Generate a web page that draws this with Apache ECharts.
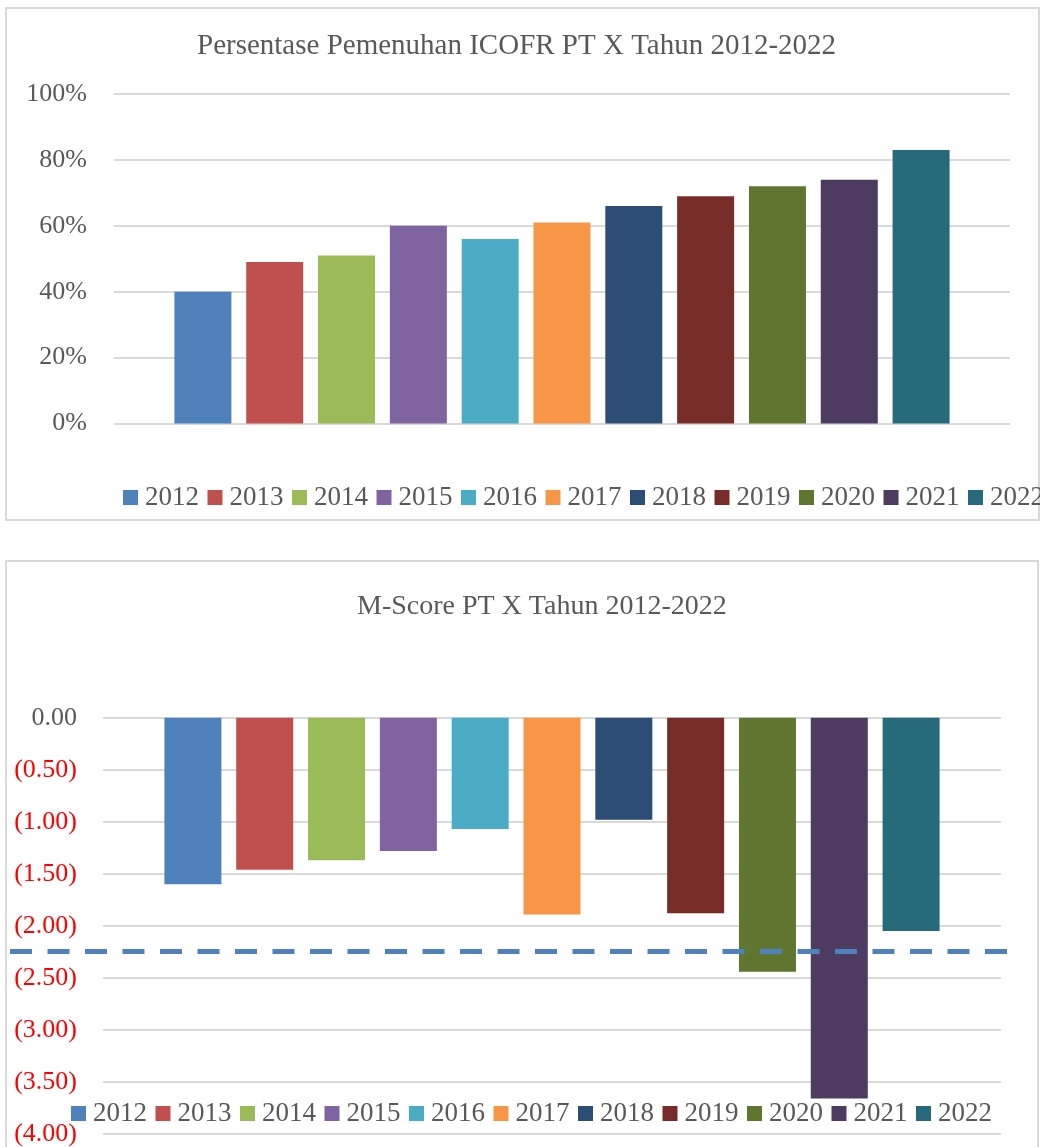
<!DOCTYPE html>
<html>
<head>
<meta charset="utf-8">
<script src="https://cdn.jsdelivr.net/npm/echarts@6/dist/echarts.min.js"></script>
<style>
  html, body { margin: 0; padding: 0; background: #fff; overflow: hidden; }
  .box { position: absolute; border: 2px solid #d9d9d9; box-sizing: border-box; }
  .chart { position: absolute; left: 0; width: 1040px; }
</style>
</head>
<body>
<div class="box" style="left:5px; top:7px; width:1035px; height:514px;"></div>
<div class="box" style="left:5px; top:560px; width:1034px; height:620px;"></div>
<div id="icofr" class="chart" style="top:0; height:540px;"></div>
<div id="mscore" class="chart" style="top:540px; height:607px;"></div>
<script>
  // data
  const years = ['2012', '2013', '2014', '2015', '2016', '2017', '2018', '2019', '2020', '2021', '2022']
  const icofrValues = [0.40, 0.49, 0.51, 0.60, 0.56, 0.61, 0.66, 0.69, 0.72, 0.74, 0.83]
  const mscoreValues = [-1.60, -1.46, -1.37, -1.28, -1.07, -1.89, -0.98, -1.88, -2.44, -3.66, -2.05]
  const mscoreThreshold = -2.22
  const colors = ['#4F81BD', '#C0504D', '#9BBB59', '#8064A2', '#4BACC6', '#F79646',
    '#2C4D75', '#772C2A', '#5F7530', '#4D3B62', '#276A7C']

  const font = 'Liberation Serif'
  const textGray = '#595959'
  const gridGray = '#d9d9d9'

  const legendStyle = {
    data: years,
    width: 1200,
    icon: 'rect',
    itemWidth: 15,
    itemHeight: 15,
    itemGap: 8.5,
    textStyle: { fontFamily: font, fontSize: 27, color: textGray, padding: [0, 0, 0, 2] }
  }

  // chart 1: ICOFR
  const chart1 = echarts.init(document.getElementById('icofr'))
  const option1 = {
    animation: false,
    color: colors,
    title: {
      text: 'Persentase Pemenuhan ICOFR PT X Tahun 2012-2022',
      left: 192,
      top: 27,
      textStyle: { fontFamily: font, fontSize: 29, fontWeight: 'normal', color: textGray }
    },
    legend: Object.assign({ left: 118, top: 479 }, legendStyle),
    grid: { left: 114, right: 30, top: 94, height: 329.5 },
    xAxis: {
      type: 'category',
      data: ['ICOFR'],
      axisLine: { show: false },
      axisTick: { show: false },
      axisLabel: { show: false }
    },
    yAxis: {
      type: 'value',
      min: 0,
      max: 1,
      interval: 0.2,
      axisLabel: {
        margin: 27,
        fontFamily: font,
        fontSize: 26,
        color: textGray,
        formatter: v => Math.round(v * 100) + '%'
      },
      splitLine: { lineStyle: { color: gridGray, width: 2 } }
    },
    series: years.map((y, i) => ({
      name: y,
      type: 'bar',
      barWidth: 57,
      barGap: '26%',
      data: [icofrValues[i]]
    }))
  }
  chart1.setOption(option1)

  // chart 2: M-Score
  const chart2 = echarts.init(document.getElementById('mscore'))
  const yRange = { min: -4, max: 0 }
  const option2 = {
    animation: false,
    color: colors,
    title: {
      text: 'M-Score PT X Tahun 2012-2022',
      left: 352,
      top: 48,
      textStyle: { fontFamily: font, fontSize: 28, fontWeight: 'normal', color: textGray }
    },
    legend: Object.assign({ left: 66, top: 555 }, legendStyle),
    grid: [
      { left: 103, right: 39, top: 177.7, height: 420 },
      // wider grid only for the threshold line, which runs past the plot area
      { left: 10, right: 18, top: 177.7, height: 420 }
    ],
    xAxis: [
      { type: 'category', gridIndex: 0, data: ['M-Score'], axisLine: { show: false }, axisTick: { show: false }, axisLabel: { show: false } },
      { type: 'category', gridIndex: 1, data: ['M-Score'], show: false }
    ],
    yAxis: [
      {
        type: 'value',
        gridIndex: 0,
        min: yRange.min,
        max: yRange.max,
        interval: 0.5,
        axisLabel: {
          margin: 26,
          fontFamily: font,
          fontSize: 26,
          color: textGray,
          formatter: v => v === 0 ? '0.00' : '{neg|(' + Math.abs(v).toFixed(2) + ')}',
          rich: { neg: { color: '#FF0000', fontFamily: font, fontSize: 26 } }
        },
        splitLine: { lineStyle: { color: gridGray, width: 2 } }
      },
      { type: 'value', gridIndex: 1, min: yRange.min, max: yRange.max, show: false }
    ],
    series: years.map((y, i) => ({
      name: y,
      type: 'bar',
      barWidth: 57,
      barGap: '26%',
      data: [mscoreValues[i]]
    })).concat([{
      type: 'line',
      xAxisIndex: 1,
      yAxisIndex: 1,
      data: [],
      z: 10,
      markLine: {
        silent: true,
        symbol: ['none', 'none'],
        label: { show: false },
        lineStyle: { color: '#4F81BD', width: 5, type: [22, 15.5] },
        data: [{ yAxis: mscoreThreshold }]
      }
    }])
  }
  chart2.setOption(option2)
</script>
</body>
</html>
